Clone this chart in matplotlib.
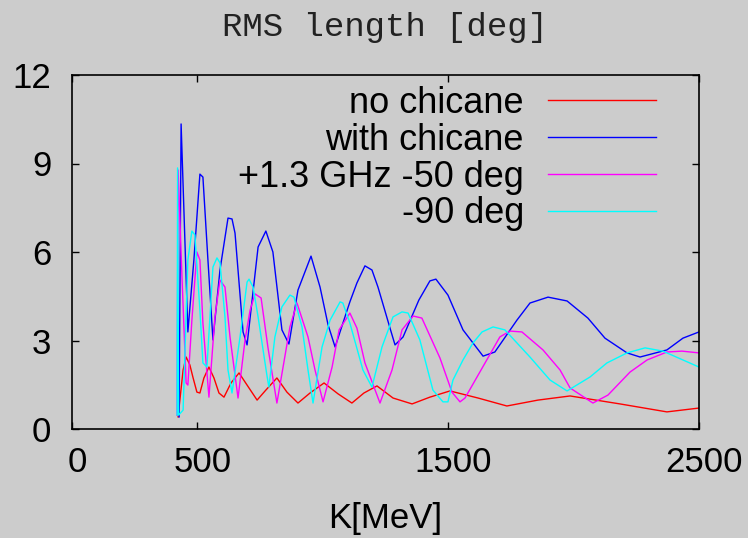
import numpy as np
import matplotlib
matplotlib.use("Agg")
import matplotlib.pyplot as plt
from matplotlib.transforms import ScaledTranslation

# data (K in MeV, RMS length in deg)
k_red = [423, 431, 443, 455, 470, 482, 498, 510, 526, 546, 566, 586, 606, 634, 666, 698,
         738, 773, 817, 857, 901, 949, 1005, 1061, 1116, 1164, 1216, 1280, 1356, 1427,
         1507, 1619, 1734, 1858, 1986, 2185, 2372, 2500]
rms_red = [0.41, 1.05, 2.0, 2.44, 2.17, 1.76, 1.25, 1.22, 1.73, 2.10, 1.73, 1.22, 1.08, 1.56,
           1.90, 1.49, 0.98, 1.32, 1.73, 1.25, 0.88, 1.22, 1.56, 1.19, 0.88, 1.22, 1.46,
           1.05, 0.85, 1.08, 1.29, 1.05, 0.78, 0.98, 1.12, 0.85, 0.58, 0.71]

k_blue = [427, 435, 462, 486, 510, 522, 542, 562, 590, 622, 638, 650, 682, 698, 742, 773,
          801, 837, 865, 901, 953, 989, 1021, 1049, 1108, 1136, 1168, 1196, 1220, 1268,
          1288, 1320, 1383, 1427, 1451, 1499, 1559, 1639, 1686, 1774, 1826, 1898, 1974,
          2057, 2125, 2213, 2265, 2372, 2436, 2500]
rms_blue = [0.41, 10.34, 3.29, 5.73, 8.64, 8.54, 5.73, 3.02, 5.39, 7.15, 7.12, 6.64, 3.29,
            2.85, 6.17, 6.71, 6.0, 3.36, 2.88, 4.71, 5.86, 4.81, 3.53, 2.78, 4.31, 4.95,
            5.53, 5.39, 4.81, 3.42, 2.85, 3.12, 4.37, 5.02, 5.08, 4.54, 3.36, 2.47, 2.61,
            3.69, 4.27, 4.47, 4.34, 3.76, 3.08, 2.58, 2.44, 2.68, 3.08, 3.29]

k_mag = [419, 423, 439, 455, 462, 478, 498, 510, 522, 546, 570, 590, 610, 630, 662, 690,
         710, 730, 754, 781, 817, 869, 897, 941, 969, 1001, 1037, 1065, 1108, 1136, 1168,
         1228, 1276, 1316, 1360, 1395, 1467, 1515, 1547, 1567, 1647, 1706, 1746, 1794,
         1878, 1946, 1986, 2077, 2137, 2225, 2293, 2372, 2432, 2500]
rms_mag = [0.47, 8.78, 5.05, 1.56, 1.49, 3.69, 6.0, 5.73, 3.59, 1.08, 3.80, 5.05, 4.81,
           3.12, 1.05, 3.02, 4.03, 4.58, 4.44, 2.78, 0.88, 3.46, 4.27, 3.12, 2.0, 0.92,
           2.10, 3.36, 3.93, 3.42, 2.24, 0.88, 2.0, 3.36, 3.83, 3.76, 2.41, 1.25, 0.92,
           1.05, 2.24, 3.12, 3.32, 3.29, 2.68, 2.0, 1.39, 0.88, 1.15, 1.93, 2.34, 2.61,
           2.64, 2.58]

k_cyan = [419, 421, 425, 443, 462, 478, 490, 510, 522, 538, 562, 578, 590, 610, 622, 638,
          670, 698, 706, 722, 742, 777, 785, 809, 837, 869, 885, 917, 941, 961, 997, 1029,
          1069, 1080, 1108, 1160, 1196, 1236, 1280, 1316, 1340, 1387, 1439, 1479, 1499,
          1519, 1559, 1599, 1635, 1679, 1726, 1826, 1906, 1974, 2065, 2133, 2213, 2285,
          2356, 2436, 2500]
rms_cyan = [0.47, 8.85, 0.47, 0.64, 5.73, 6.71, 6.58, 4.03, 2.24, 2.10, 5.49, 5.80, 5.63,
            3.80, 2.0, 1.22, 3.12, 4.98, 5.08, 4.81, 3.80, 1.83, 1.42, 3.12, 4.14, 4.54,
            4.47, 3.46, 2.0, 0.88, 2.78, 3.69, 4.31, 4.27, 3.59, 2.0, 1.42, 2.78, 3.80,
            3.97, 3.93, 3.02, 1.32, 0.92, 0.92, 1.66, 2.34, 2.92, 3.29, 3.46, 3.36, 2.44,
            1.66, 1.29, 1.76, 2.24, 2.58, 2.75, 2.64, 2.34, 2.10]

labels = ["no chicane", "with chicane", "+1.3 GHz -50 deg", "-90 deg"]
xticks = [0, 500, 1500, 2500]
yticks = [0, 3, 6, 9, 12]

bg = "#cccccc"
plt.rcParams["font.family"] = ["Liberation Sans", "DejaVu Sans"]

fig = plt.figure(figsize=(7.48, 5.38), dpi=100, facecolor=bg)
ax = fig.add_axes([72 / 748, 1 - 429 / 538, 627 / 748, 354 / 538])
ax.set_facecolor(bg)

ax.plot(k_red, rms_red, color="#ff0000", lw=1.0, label=labels[0])
ax.plot(k_blue, rms_blue, color="#0000ff", lw=1.0, label=labels[1])
ax.plot(k_mag, rms_mag, color="#ff00ff", lw=1.0, label=labels[2])
ax.plot(k_cyan, rms_cyan, color="#00ffff", lw=1.0, label=labels[3])

ax.set_xlim(0, 2500)
ax.set_ylim(0, 12)
ax.set_xticks(xticks)
ax.set_yticks(yticks)
ax.tick_params(direction="in", length=5, width=1, top=True, right=True,
               labelsize=25, pad=12.5)
ax.tick_params(axis="y", pad=15)
for s in ax.spines.values():
    s.set_linewidth(1.2)
    s.set_color("black")
for lab in ax.get_xticklabels():
    lab.set_transform(lab.get_transform() + ScaledTranslation(0.05, 0, fig.dpi_scale_trans))

ax.set_xlabel("K[MeV]", fontsize=25, labelpad=16)
ax.set_title("RMS length [deg]", fontsize=24.5, family="Liberation Mono", pad=28,
             color="#222222")

leg = ax.legend(loc="upper right", bbox_to_anchor=(656 / 748, 1 - 86 / 538),
                bbox_transform=fig.transFigure, frameon=False, markerfirst=False,
                fontsize=26, handlelength=3.0, handletextpad=0.66, labelspacing=0.05,
                borderpad=0, borderaxespad=0)

fig.savefig("out.png", dpi=100, facecolor=bg)
